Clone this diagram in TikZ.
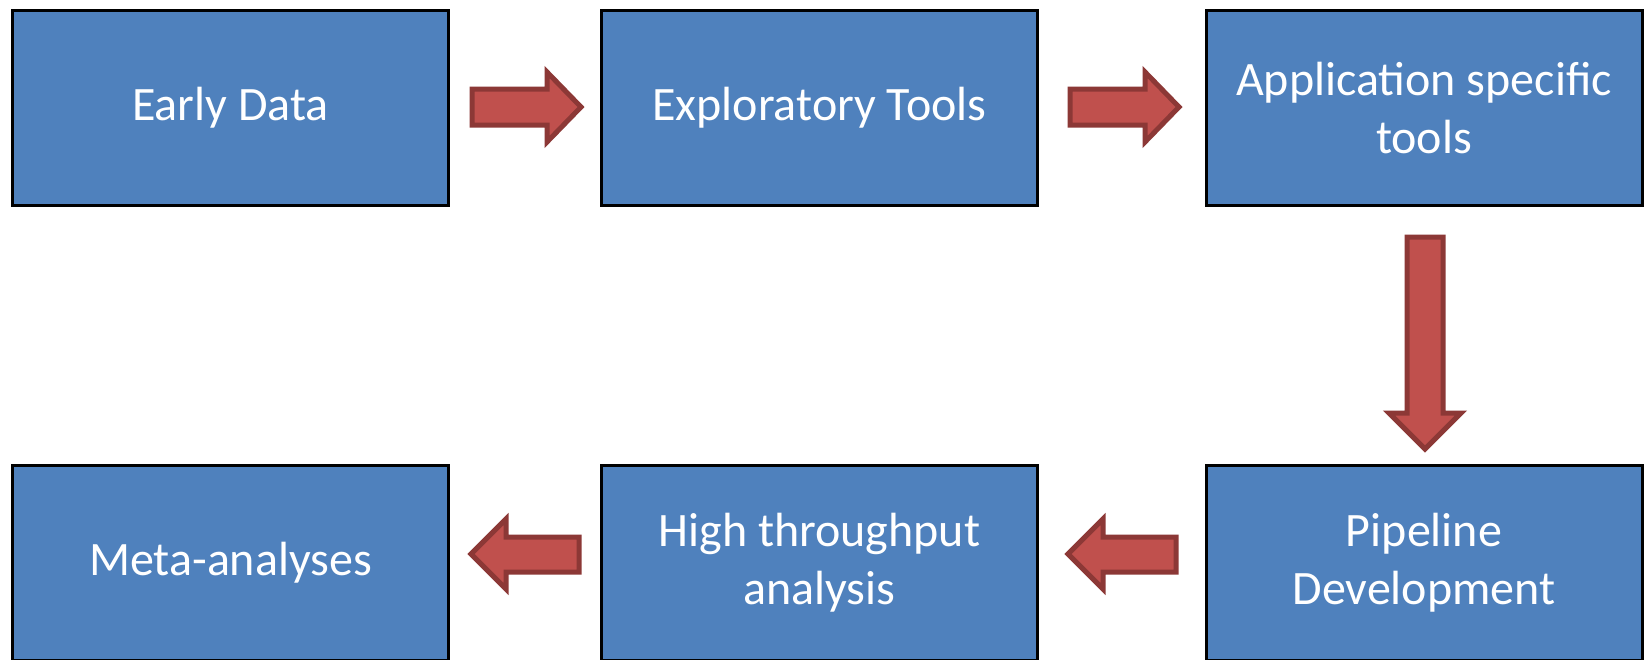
\documentclass[tikz,border=0pt]{standalone}
\usepackage{fontspec}
\setmainfont{Carlito}
\definecolor{boxblue}{HTML}{4F81BD}
\definecolor{arrowred}{HTML}{C0504D}
\definecolor{arrowdark}{HTML}{8C3836}
\begin{document}
\begin{tikzpicture}[x=1pt,y=-1pt,
  box/.style={draw=black,line width=3pt,fill=boxblue,text=white,
    minimum width=436pt,minimum height=195pt,inner sep=0pt,align=center,
    font=\fontsize{48}{58}\selectfont},
  blockarrow/.style={draw=arrowdark,line width=5pt,fill=arrowred,line join=miter}]
\useasboundingbox (0,0) rectangle (1646,659);
\fill[white] (0,0) rectangle (1646,659);
% boxes
\node[box] (b1) at (230.5,108) {Early Data};
\node[box] (b2) at (819.5,108) {Exploratory Tools};
\node[box] (b3) at (1424,108) {Application specific\\tools};
\node[box] (b4) at (1424,563) {Pipeline\\Development};
\node[box] (b5) at (819.5,563) {High throughput\\analysis};
\node[box] (b6) at (230.5,563) {Meta-analyses};
% arrows
\draw[blockarrow] (472,89) -- (547,89) -- (547,72) -- (581,107) -- (547,142) -- (547,125) -- (472,125) -- cycle;
\draw[blockarrow] (1070,89) -- (1145,89) -- (1145,72) -- (1179,107) -- (1145,142) -- (1145,125) -- (1070,125) -- cycle;
\draw[blockarrow] (1407,237) -- (1443,237) -- (1443,413) -- (1461,413) -- (1425,449) -- (1389,413) -- (1407,413) -- cycle;
\draw[blockarrow] (1176,537) -- (1103,537) -- (1103,519) -- (1068,554) -- (1103,589) -- (1103,572) -- (1176,572) -- cycle;
\draw[blockarrow] (579,537) -- (506,537) -- (506,519) -- (471,554) -- (506,589) -- (506,572) -- (579,572) -- cycle;
\end{tikzpicture}
\end{document}
